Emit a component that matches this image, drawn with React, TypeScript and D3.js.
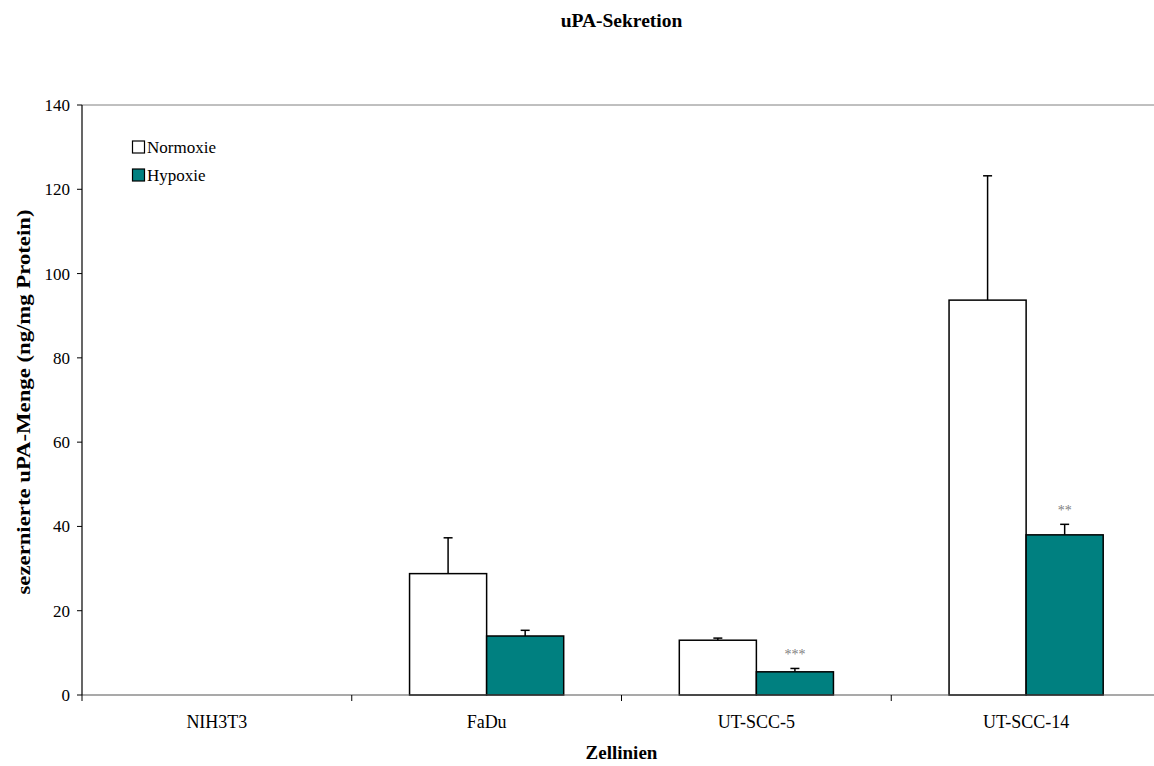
import React from "react";
import * as d3 from "d3";

const categories = ["NIH3T3", "FaDu", "UT-SCC-5", "UT-SCC-14"];
const seriesNames = ["Normoxie", "Hypoxie"];
const normoxie = [0, 28.8, 13.0, 93.7];
const normoxieErr = [0, 8.5, 0.5, 29.5];
const hypoxie = [0, 14.0, 5.5, 38.0];
const hypoxieErr = [0, 1.35, 0.8, 2.5];
const hypoxieSig = ["", "", "***", "**"];
const yTicks = [0, 20, 40, 60, 80, 100, 120, 140];
const colors = ["#ffffff", "#008080"];

export default function App() {
  const W = 1154, H = 766;
  const left = 82, right = 1161, top = 105, bottom = 695;
  const cxPlot = (left + right) / 2;
  const font = "'Liberation Serif', 'Times New Roman', serif";
  const x = d3.scaleBand<string>().domain(categories).range([left, right]).paddingInner(0).paddingOuter(0);
  const y = d3.scaleLinear().domain([0, 140]).range([bottom, top]);
  const bw = x.bandwidth() / 3.5;
  const series = [
    { vals: normoxie, errs: normoxieErr },
    { vals: hypoxie, errs: hypoxieErr },
  ];
  return (
    <svg width={W} height={H} style={{ position: "absolute", left: 0, top: 0, background: "#fff" }} fontFamily={font}>
      <text x={cxPlot} y={27} textAnchor="middle" fontWeight="bold" fontSize={19.5}>uPA-Sekretion</text>
      {/* top border */}
      <line x1={left} x2={right} y1={top} y2={top} stroke="#808080" strokeWidth={1} />
      {/* bars */}
      {categories.map((c, i) =>
        series.map((s, j) => {
          const v = s.vals[i];
          if (v <= 0) return null;
          const bx = x(c)! + x.bandwidth() / 2 - bw + j * bw;
          const cx = bx + bw / 2;
          const yt = y(v);
          const ye = y(v + s.errs[i]);
          return (
            <g key={c + j}>
              <line x1={cx} x2={cx} y1={yt} y2={ye} stroke="#000" strokeWidth={1.5} />
              <line x1={cx - 4.5} x2={cx + 4.5} y1={ye} y2={ye} stroke="#000" strokeWidth={1.5} />
              <rect x={bx} y={yt} width={bw} height={bottom - yt} fill={colors[j]} stroke="#000" strokeWidth={1.5} />
              {j === 1 && hypoxieSig[i] ? (
                <text x={cx} y={ye - 9} textAnchor="middle" fontSize={14} fill="#808080">{hypoxieSig[i]}</text>
              ) : null}
            </g>
          );
        })
      )}
      {/* x axis */}
      <line x1={left} x2={right} y1={bottom} y2={bottom} stroke="#555" strokeWidth={1.2} />
      {categories.map((c, i) => (
        <g key={c}>
          <line x1={x(c)!} x2={x(c)!} y1={bottom} y2={bottom + 6} stroke="#000" strokeWidth={1} />
          <text x={x(c)! + x.bandwidth() / 2} y={728} textAnchor="middle" fontSize={18}>{c}</text>
        </g>
      ))}
      {/* y axis */}
      <line x1={left} x2={left} y1={top} y2={bottom} stroke="#000" strokeWidth={1.2} />
      {yTicks.map((t) => (
        <g key={t}>
          <line x1={left - 5} x2={left} y1={y(t)} y2={y(t)} stroke="#000" strokeWidth={1} />
          <text x={70} y={y(t) + 6} textAnchor="end" fontSize={17}>{t}</text>
        </g>
      ))}
      <text transform={`translate(30,${(top + bottom) / 2 + 2}) rotate(-90)`} textAnchor="middle" fontWeight="bold" fontSize={19}
        textLength={385} lengthAdjust="spacingAndGlyphs">
        sezernierte uPA-Menge (ng/mg Protein)
      </text>
      <text x={cxPlot} y={759} textAnchor="middle" fontWeight="bold" fontSize={19}>Zellinien</text>
      {/* legend */}
      {seriesNames.map((n, i) => (
        <g key={n}>
          <rect x={132.5} y={141 + i * 28} width={12} height={12} fill={colors[i]} stroke="#000" strokeWidth={1.2} />
          <text x={147} y={153 + i * 28} fontSize={17}>{n}</text>
        </g>
      ))}
    </svg>
  );
}
